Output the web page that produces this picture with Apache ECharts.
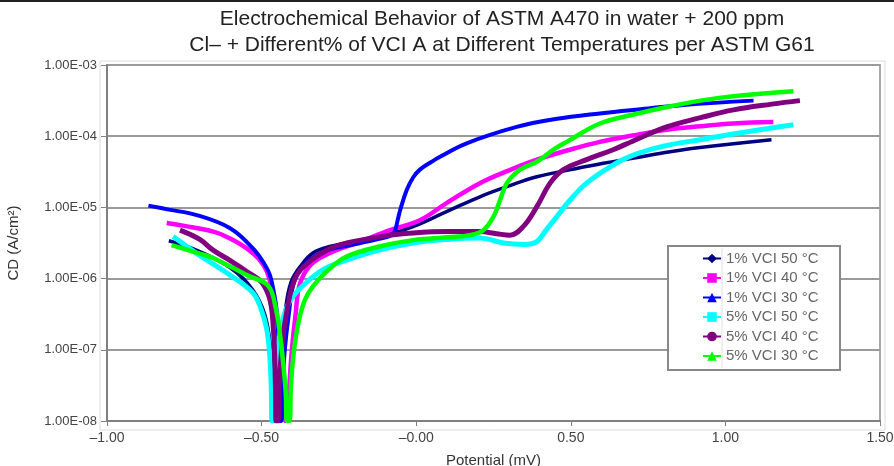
<!DOCTYPE html>
<html><head><meta charset="utf-8">
<script src="https://cdn.jsdelivr.net/npm/echarts@6/dist/echarts.min.js"></script>
<style>html,body{margin:0;padding:0;background:#fff}#c{width:894px;height:466px}</style>
</head><body><div id="c"></div>
<script>
const titleLines = ['Electrochemical Behavior of ASTM A470 in water + 200 ppm', 'Cl\u2013 + Different% of VCI A at Different Temperatures per ASTM G61'];
const xTickLabels = ['\u20131.00', '\u20130.50', '\u20130.00', '0.50', '1.00', '1.50'];
const yTickLabels = ['1.00E-08', '1.00E-07', '1.00E-06', '1.00E-05', '1.00E-04', '1.00E-03'];
const seriesNames = ['1% VCI 50 °C', '1% VCI 40 °C', '1% VCI 30 °C', '5% VCI 50 °C', '5% VCI 40 °C', '5% VCI 30 °C'];

// [potential (V), current density (A/cm2)]
const vci1_50 = [[-0.80,3.4e-6],[-0.70,2.4e-6],[-0.60,1.41e-6],[-0.53,7.1e-7],[-0.49,3.16e-7],[-0.47,1e-7],[-0.462,3.16e-8],[-0.458,1e-8],[-0.452,1e-8],[-0.447,3.16e-8],[-0.44,1e-7],[-0.425,3.16e-7],[-0.405,8.9e-7],[-0.37,1.58e-6],[-0.334,2.29e-6],[-0.28,2.82e-6],[-0.20,3.31e-6],[-0.117,3.89e-6],[-0.01,5.37e-6],[0.098,8.71e-6],[0.206,1.41e-5],[0.30,2.0e-5],[0.39,2.69e-5],[0.50,3.39e-5],[0.605,4.17e-5],[0.70,4.9e-5],[0.821,6.03e-5],[0.918,6.92e-5],[1.149,8.91e-5]];
const vci1_40 = [[-0.807,6.03e-6],[-0.75,5.5e-6],[-0.656,4.57e-6],[-0.60,3.63e-6],[-0.548,2.66e-6],[-0.51,1.91e-6],[-0.483,1.26e-6],[-0.465,6.31e-7],[-0.45,2.51e-7],[-0.437,1e-7],[-0.428,3.16e-8],[-0.423,1e-8],[-0.415,1e-8],[-0.41,3.16e-8],[-0.402,1e-7],[-0.39,3.16e-7],[-0.376,8.51e-7],[-0.34,1.58e-6],[-0.279,2.29e-6],[-0.18,3.31e-6],[-0.085,4.79e-6],[0.012,6.61e-6],[0.098,1.15e-5],[0.206,2.19e-5],[0.30,3.31e-5],[0.39,4.68e-5],[0.497,6.46e-5],[0.594,8.32e-5],[0.70,1.02e-4],[0.81,1.23e-4],[0.92,1.38e-4],[1.026,1.51e-4],[1.155,1.58e-4]];
const vci1_30 = [[-0.866,1.06e-5],[-0.80,9.3e-6],[-0.71,7.8e-6],[-0.602,5.1e-6],[-0.528,2.66e-6],[-0.49,1.58e-6],[-0.473,1.12e-6],[-0.46,6.31e-7],[-0.45,3.16e-7],[-0.445,1e-7],[-0.442,3.16e-8],[-0.440,1e-8],[-0.436,1e-8],[-0.432,3.16e-8],[-0.425,1e-7],[-0.412,3.16e-7],[-0.395,8.9e-7],[-0.36,1.58e-6],[-0.30,2.4e-6],[-0.20,3.02e-6],[-0.12,3.63e-6],[-0.085,3.98e-6],[-0.07,4.57e-6],[-0.06,6.61e-6],[-0.052,9.12e-6],[-0.031,1.74e-5],[-0.01,2.63e-5],[0.012,3.39e-5],[0.05,4.37e-5],[0.077,5.13e-5],[0.163,7.94e-5],[0.325,1.35e-4],[0.45,1.74e-4],[0.594,2.09e-4],[0.75,2.45e-4],[0.864,2.75e-4],[1.091,3.16e-4]];
const vci5_50 = [[-0.786,3.89e-6],[-0.71,2.26e-6],[-0.602,1.12e-6],[-0.528,6.31e-7],[-0.50,3.55e-7],[-0.484,2.0e-7],[-0.475,1e-7],[-0.469,3.16e-8],[-0.466,1e-8],[-0.460,1e-8],[-0.455,3.16e-8],[-0.447,1e-7],[-0.435,2.3e-7],[-0.415,4.3e-7],[-0.385,6.6e-7],[-0.354,8.9e-7],[-0.30,1.35e-6],[-0.225,1.82e-6],[-0.12,2.51e-6],[-0.01,3.16e-6],[0.10,3.55e-6],[0.206,3.72e-6],[0.282,3.16e-6],[0.35,3.02e-6],[0.39,3.31e-6],[0.42,4.79e-6],[0.455,7.41e-6],[0.497,1.26e-5],[0.551,2.19e-5],[0.627,3.72e-5],[0.70,5.37e-5],[0.80,7.24e-5],[0.918,8.91e-5],[1.05,1.12e-4],[1.22,1.45e-4]];
const vci5_40 = [[-0.764,4.79e-6],[-0.70,3.55e-6],[-0.657,2.51e-6],[-0.60,1.78e-6],[-0.548,1.26e-6],[-0.50,8.9e-7],[-0.473,5.01e-7],[-0.462,2.0e-7],[-0.457,6.31e-8],[-0.455,2.51e-8],[-0.453,1e-8],[-0.447,1e-8],[-0.443,3.16e-8],[-0.435,1e-7],[-0.42,3.16e-7],[-0.392,1e-6],[-0.35,1.66e-6],[-0.28,2.63e-6],[-0.225,3.16e-6],[-0.10,3.98e-6],[-0.01,4.37e-6],[0.10,4.57e-6],[0.206,4.57e-6],[0.26,4.27e-6],[0.303,4.07e-6],[0.346,5.37e-6],[0.39,1.02e-5],[0.433,2.19e-5],[0.476,3.39e-5],[0.551,4.68e-5],[0.637,6.46e-5],[0.70,8.51e-5],[0.81,1.35e-4],[0.92,1.82e-4],[1.026,2.34e-4],[1.15,2.82e-4],[1.241,3.16e-4]];
const vci5_30 = [[-0.791,2.95e-6],[-0.70,2.24e-6],[-0.657,1.95e-6],[-0.548,1.12e-6],[-0.479,7.94e-7],[-0.455,3.98e-7],[-0.44,1.58e-7],[-0.43,6.31e-8],[-0.422,2.51e-8],[-0.418,1e-8],[-0.410,1e-8],[-0.405,3.16e-8],[-0.395,1e-7],[-0.38,2.51e-7],[-0.36,5.01e-7],[-0.334,7.76e-7],[-0.29,1.26e-6],[-0.225,2.04e-6],[-0.12,2.82e-6],[-0.01,3.47e-6],[0.10,3.80e-6],[0.174,4.07e-6],[0.217,4.79e-6],[0.25,7.41e-6],[0.271,1.26e-5],[0.293,2.19e-5],[0.336,3.39e-5],[0.39,4.37e-5],[0.444,6.46e-5],[0.487,8.32e-5],[0.594,1.51e-4],[0.70,2.0e-4],[0.81,2.57e-4],[0.92,3.16e-4],[1.026,3.63e-4],[1.22,4.27e-4]];

const seriesData = [vci1_50, vci1_40, vci1_30, vci5_50, vci5_40, vci5_30];
const colors = ['#000080', '#FF00FF', '#0000FF', '#00FFFF', '#800080', '#00FF00'];
const symbols = ['diamond', 'rect', 'triangle', 'rect', 'circle', 'triangle'];
const widths = [3.5, 4.5, 4, 5, 5, 4.5];

const chart = echarts.init(document.getElementById('c'), null, {renderer: 'canvas'});
const FONT = 'Liberation Sans, Arial, sans-serif';
chart.setOption({
  animation: false,
  backgroundColor: '#fff',
  title: {
    text: titleLines.join('\n'),
    left: 497, top: 1, textAlign: 'center',
    textStyle: {fontFamily: FONT, fontSize: 21, fontWeight: 'normal', color: '#222', lineHeight: 26}
  },
  grid: {left: 107, right: 14, top: 65, bottom: 45, show: true, borderColor: '#a8a8a8', borderWidth: 2, backgroundColor: 'transparent', outerBoundsMode: 'none', containLabel: false},
  xAxis: {
    type: 'value', min: -1, max: 1.5, interval: 0.5,
    name: 'Potential (mV)', nameLocation: 'middle', nameGap: 32,
    nameTextStyle: {fontFamily: FONT, fontSize: 15, color: '#333'},
    axisLine: {onZero: false, lineStyle: {color: '#808080', width: 2}},
    axisTick: {show: true, length: 5, lineStyle: {color: '#808080', width: 1}},
    axisLabel: {fontFamily: FONT, fontSize: 14, color: '#444', margin: 10,
      formatter: v => xTickLabels[Math.round((v + 1) / 0.5)]},
    splitLine: {show: false}
  },
  yAxis: {
    type: 'log', logBase: 10, min: 1e-8, max: 1e-3,
    name: 'CD (A/cm²)', nameLocation: 'middle', nameGap: 86, nameRotate: 90,
    nameTextStyle: {fontFamily: FONT, fontSize: 15, color: '#333'},
    axisLine: {onZero: false, lineStyle: {color: '#808080', width: 2}},
    axisTick: {show: true, length: 6, lineStyle: {color: '#808080', width: 1}},
    minorTick: {show: false},
    axisLabel: {fontFamily: FONT, fontSize: 13, color: '#444', margin: 10,
      formatter: v => yTickLabels[Math.round(Math.log10(v) + 8)]},
    splitLine: {show: true, lineStyle: {color: '#9a9a9a', width: 2}}
  },
  legend: {
    orient: 'vertical', left: 702, top: 251, z: 20, padding: 0,
    itemWidth: 18, itemHeight: 12, itemGap: 4.5,
    data: seriesNames,
    textStyle: {fontFamily: FONT, fontSize: 15, color: '#666'}
  },
  graphic: [
    {type: 'rect', z: 0, silent: true, shape: {x: 0, y: 0, width: 894, height: 2}, style: {fill: '#222'}},
    {type: 'rect', z: 0, silent: true, shape: {x: 100, y: 61, width: 785, height: 369}, style: {fill: 'none', stroke: '#dcdcdc', lineWidth: 1}},
    {type: 'rect', z: 10, silent: true, shape: {x: 668, y: 246, width: 172, height: 124}, style: {fill: '#fff', stroke: '#888', lineWidth: 2}},
    {type: 'line', z: 11, silent: true, shape: {x1: 722, y1: 248, x2: 722, y2: 368}, style: {stroke: '#e0e0e0', lineWidth: 1}}
  ],
  series: seriesData.map((d, i) => ({
    name: seriesNames[i], type: 'line', data: d,
    smooth: 0.4,
    showSymbol: false, symbol: symbols[i], symbolSize: 6,
    itemStyle: {color: colors[i]},
    lineStyle: {color: colors[i], width: widths[i]},
    z: 2 + i * 0.01
  }))
});
</script></body></html>
